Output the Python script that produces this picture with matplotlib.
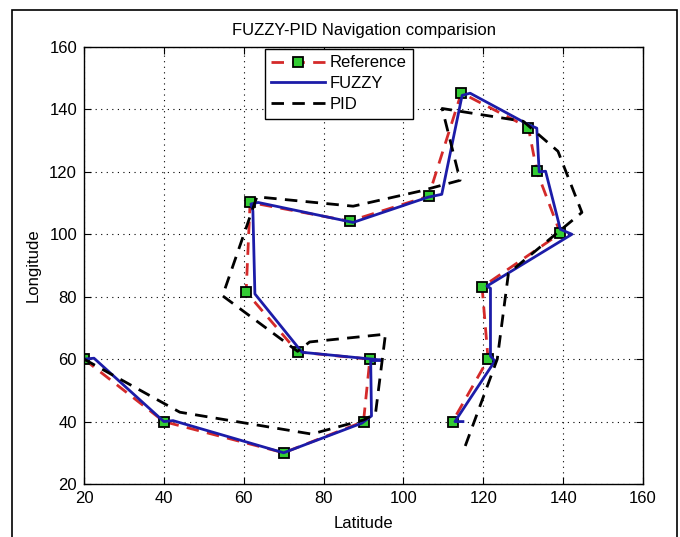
import matplotlib
matplotlib.use("Agg")
import matplotlib.pyplot as plt
from matplotlib.patches import Rectangle

plt.rcParams['font.family'] = ['Liberation Sans', 'DejaVu Sans']

# Reference waypoints
ref_x = [20, 40, 70, 90, 91.6, 73.5, 60.6, 61.6, 86.5, 106.3, 114.5, 131.3, 133.4, 139.3, 119.7, 121.2, 112.3]
ref_y = [60, 40, 30, 40, 60, 62.3, 81.5, 110.2, 104.2, 112.2, 145.3, 134.2, 120.2, 100.3, 83.1, 60, 40]

# FUZZY controller path
fuzzy_x = [20, 22.5, 40, 42.3, 70, 89.6, 92, 91.8, 94.6, 74.6, 62.8, 62.3, 61.8, 63.6, 87.4, 106.2,
           109.6, 114.7, 116.7, 131.2, 133.4, 134, 135.6, 139.3, 142.2, 120.9, 121.8, 121.8, 122.9,
           112.9, 114.9]
fuzzy_y = [60, 60.3, 40, 40.3, 30, 39.5, 41.8, 59.4, 59.7, 62.2, 80.9, 107.5, 109.7, 110.2, 103.8, 111.9,
           112.8, 144.5, 145.2, 135.2, 134, 120, 120.2, 101.6, 100, 83.4, 82.7, 61, 59.4, 40, 40]

# PID controller path
pid_x = [20, 44, 77, 90, 93, 95.5, 76.5, 73.5, 54.7, 63.3, 87.4, 104.1, 114.2, 109.7, 130, 138.7,
         144.7, 126.3, 123.5, 115]
pid_y = [60, 43, 36, 40.5, 42.5, 68, 65.5, 62.5, 80.3, 112, 109, 113.8, 117.3, 140.3, 136.2, 126.6,
         107, 87.5, 60, 30.5]

fig = plt.figure(figsize=(6.8, 5.37), dpi=100)
ax = fig.add_axes([84 / 680, 1 - 484 / 537, (643 - 84) / 680, (484 - 47) / 537])

ax.plot(ref_x, ref_y, '--', color='#d42a2a', lw=2, marker='s', markersize=7.5,
        markerfacecolor='#33cc33', markeredgecolor='black', markeredgewidth=1.3,
        dashes=(4.5, 3), label='Reference')
ax.plot(fuzzy_x, fuzzy_y, '-', color='#1c1ca8', lw=2, label='FUZZY')
ax.plot(pid_x, pid_y, '--', color='black', lw=2, dashes=(4.5, 3), label='PID')

ax.set_xlim(20, 160)
ax.set_ylim(20, 160)
ax.set_xticks(range(20, 161, 20))
ax.set_yticks(range(20, 161, 20))
ax.tick_params(direction='in', top=True, right=True, length=5, labelsize=12, pad=5)
ax.grid(True, color='black', linestyle=(0, (1, 4)), lw=0.8)
for s in ax.spines.values():
    s.set_linewidth(1.0)

ax.set_title('FUZZY-PID Navigation comparision', fontsize=12, pad=9)
ax.set_xlabel('Latitude', fontsize=12, labelpad=7)
ax.set_ylabel('Longitude', fontsize=12, labelpad=6)

leg = ax.legend(loc='upper left', bbox_to_anchor=((263 - 84) / 559, 1.0), fontsize=12,
                handlelength=3.2, fancybox=False, edgecolor='black', framealpha=1,
                borderaxespad=0.1, labelspacing=0.35, handletextpad=0.3, borderpad=0.4)
leg.get_frame().set_linewidth(1.0)

fig.patches.append(Rectangle((12 / 680, -0.1), (677 - 12) / 680, 1 - 10 / 537 + 0.1,
                             transform=fig.transFigure, fill=False, edgecolor='black', lw=1.2))

fig.savefig('out.png', dpi=100)
